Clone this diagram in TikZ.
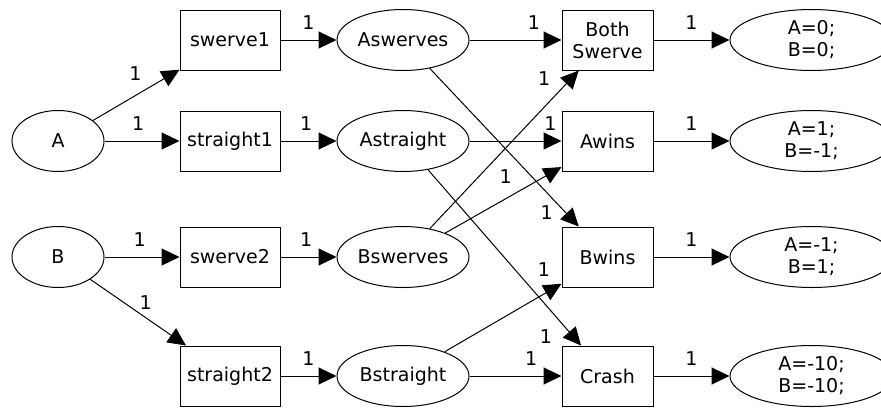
\documentclass[tikz,border=0pt]{standalone}
\usepackage{fontspec}
\setmainfont{DejaVu Sans}
\usetikzlibrary{arrows.meta,shapes.geometric,positioning}

\begin{document}
\begin{tikzpicture}[x=1pt,y=-1pt,
    font=\fontsize{19}{22}\selectfont,
    line width=1pt,
    place/.style={draw,ellipse,minimum height=61pt,inner sep=0pt,align=center},
    trans/.style={draw,rectangle,minimum height=60pt,inner sep=0pt,align=center},
    arc/.style={-{Triangle[length=18pt,width=17pt]}},
    wt/.style={inner sep=2pt}
  ]
  \useasboundingbox (0,0) rectangle (881,408);
  \clip (0,0) rectangle (881,408);

  % players
  \node[place,minimum width=92pt] (A) at (58,141) {A};
  \node[place,minimum width=92pt] (B) at (58,257) {B};

  % choices
  \node[trans,minimum width=100pt] (sw1) at (230,40)  {swerve1};
  \node[trans,minimum width=100pt] (st1) at (230,141) {straight1};
  \node[trans,minimum width=100pt] (sw2) at (230,257) {swerve2};
  \node[trans,minimum width=100pt] (st2) at (230,376) {straight2};

  \node[place,minimum width=132pt,right=56pt of sw1] (asw) {Aswerves};
  \node[place,minimum width=132pt,right=56pt of st1] (ast) {Astraight};
  \node[place,minimum width=132pt,right=56pt of sw2] (bsw) {Bswerves};
  \node[place,minimum width=132pt,right=56pt of st2] (bst) {Bstraight};

  % outcomes
  \node[trans,minimum width=91pt,right=92pt of asw] (both)  {Both\\Swerve};
  \node[trans,minimum width=91pt,right=92pt of ast] (awins) {Awins};
  \node[trans,minimum width=91pt,right=92pt of bsw] (bwins) {Bwins};
  \node[trans,minimum width=91pt,right=92pt of bst] (crash) {Crash};

  \node[place,minimum width=163pt,right=76pt of both]  (pay1) {A=0;\\B=0;};
  \node[place,minimum width=163pt,right=76pt of awins] (pay2) {A=1;\\B=-1;};
  \node[place,minimum width=163pt,right=76pt of bwins] (pay3) {A=-1;\\B=1;};
  \node[place,minimum width=163pt,right=76pt of crash] (pay4) {A=-10;\\B=-10;};

  \draw[arc] (A) -- node[wt,pos=.49,above=13pt] {1} (sw1);
  \draw[arc] (A) -- node[wt,pos=.45,above=8pt] {1} (st1);
  \draw[arc] (B) -- node[wt,pos=.47,above=8pt] {1} (sw2);
  \draw[arc] (B) -- node[wt,pos=.58,above=6pt] {1} (st2);

  \draw[arc] (sw1) -- node[wt,pos=.5,above=8pt] {1} (asw);
  \draw[arc] (st1) -- node[wt,pos=.46,above=8pt] {1} (ast);
  \draw[arc] (sw2) -- node[wt,pos=.46,above=8pt] {1} (bsw);
  \draw[arc] (st2) -- node[wt,pos=.5,above=8pt] {1} (bst);

  \draw[arc] (asw) -- node[wt,pos=.7,above=8pt] {1} (both);
  \draw[arc] (bsw) -- node[wt,pos=.946,left=18pt] {1} (both);
  \draw[arc] (ast) -- node[wt,pos=.88,above=8pt] {1} (awins);
  \draw[arc] (bsw) -- node[wt,pos=.52,above=13pt] {1} (awins);
  \draw[arc] (asw) -- node[wt,pos=.784,below=11pt] {1} (bwins);
  \draw[arc] (bst) -- node[wt,pos=.85,above=14.5pt] {1} (bwins);
  \draw[arc] (ast) -- node[wt,pos=.95,left=19pt] {1} (crash);
  \draw[arc] (bst) -- node[wt,pos=.67,above=8pt] {1} (crash);

  \draw[arc] (both)  -- node[wt,pos=.5,above=8pt] {1} (pay1);
  \draw[arc] (awins) -- node[wt,pos=.5,above=8pt] {1} (pay2);
  \draw[arc] (bwins) -- node[wt,pos=.5,above=8pt] {1} (pay3);
  \draw[arc] (crash) -- node[wt,pos=.5,above=8pt] {1} (pay4);
\end{tikzpicture}
\end{document}
